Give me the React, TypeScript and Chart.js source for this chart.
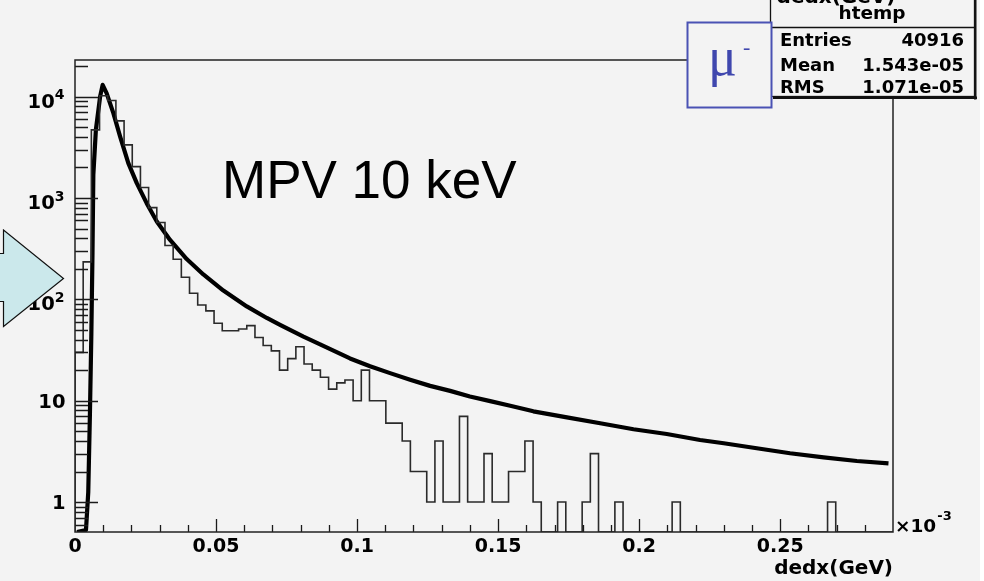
import { useEffect, useRef } from "react";
import { Chart, registerables } from "chart.js";

Chart.register(...registerables);

// ---- axis ranges (display units: dedx in 10^-3 GeV) ----
const X_MIN = 0;
const X_MAX = 0.29;
const Y_MIN = 0.506;
const Y_MAX = 23000;
const BIN_COUNT = 100;

// ---- histogram bin contents (100 bins over 0..0.29) ----
const binCounts = [
  30, 234, 4700, 10200, 9150, 5770, 3340, 2040, 1270, 804,
  573, 340, 249, 165, 115, 88, 77, 58, 49, 49,
  51, 55, 42, 35, 31, 20, 26, 34, 23, 20,
  17, 13, 15, 16, 10, 20, 10, 10, 6, 6,
  4, 2, 2, 1, 4, 1, 1, 7, 1, 1,
  3, 1, 1, 2, 2, 4, 1, 0, 0, 1,
  0, 0, 1, 3, 0, 0, 1, 0, 0, 0,
  0, 0, 0, 1, 0, 0, 0, 0, 0, 0,
  0, 0, 0, 0, 0, 0, 0, 0, 0, 0,
  0, 0, 1, 0, 0, 0, 0, 0, 0, 0,
];

// ---- fitted curve ----
const fitX = [
  0.0007, 0.0039, 0.0047, 0.0053, 0.0058, 0.0062, 0.0065, 0.0074, 0.0089, 0.0098,
  0.0112, 0.0136, 0.016, 0.0189, 0.0219, 0.0254, 0.029, 0.0337, 0.0396, 0.0455,
  0.0526, 0.0609, 0.068, 0.0727, 0.081, 0.0869, 0.0975, 0.1046, 0.1117, 0.1188,
  0.1259, 0.133, 0.14, 0.1472, 0.1543, 0.1625, 0.1744, 0.1862, 0.198, 0.2098,
  0.2216, 0.23, 0.2417, 0.2535, 0.2654, 0.2772, 0.2884,
];
const fitY = [
  0.506, 0.53, 1.25, 7.6, 46, 287, 1690, 4700, 10000, 13070,
  10830, 6870, 4040, 2210, 1400, 889, 585, 386, 250, 176,
  122, 85.1, 65.5, 55.9, 42.8, 35.9, 26.1, 21.9, 18.7, 16.1,
  14.0, 12.5, 11.0, 9.9, 8.9, 7.85, 6.85, 5.98, 5.22, 4.69,
  4.09, 3.8, 3.39, 3.03, 2.76, 2.54, 2.41,
];

// ---- tick labels ----
const xTickValues = [0, 0.05, 0.1, 0.15, 0.2, 0.25];
const xTickLabels = ["0", "0.05", "0.1", "0.15", "0.2", "0.25"];
const yTickValues = [1, 10, 100, 1000, 10000];
const yTickBase = ["1", "10", "10", "10", "10"];
const yTickExp = ["", "", "2", "3", "4"];

// ---- texts ----
const xTitle = "dedx(GeV)";
const xScaleNote = "×10";
const xScaleExp = "-3";
const statsTitle = "htemp";
const statsLabels = ["Entries", "Mean", "RMS"];
const statsValues = ["40916", "1.543e-05", "1.071e-05"];
const annotation = "MPV 10 keV";
const particle = "μ";
const particleCharge = "-";

const BG = "#f3f3f3";
const ROOT_FONT = '"DejaVu Sans"';

function histOutline() {
  const w = (X_MAX - X_MIN) / BIN_COUNT;
  const pts: { x: number; y: number }[] = [{ x: X_MIN, y: Y_MIN }];
  binCounts.forEach((c, i) => {
    const v = c > 0 ? c : Y_MIN;
    pts.push({ x: X_MIN + i * w, y: v }, { x: X_MIN + (i + 1) * w, y: v });
  });
  pts.push({ x: X_MAX, y: Y_MIN });
  return pts;
}

const decorPlugin = {
  id: "rootDecor",
  beforeDraw(chart: any) {
    const ctx = chart.ctx as CanvasRenderingContext2D;
    ctx.save();
    ctx.fillStyle = BG;
    ctx.fillRect(0, 0, chart.width, chart.height);
    ctx.fillStyle = "#ffffff";
    ctx.fillRect(980, 0, chart.width - 980, chart.height);
    ctx.restore();
  },
  afterDatasetsDraw(chart: any) {
    const ctx = chart.ctx as CanvasRenderingContext2D;
    const a = chart.chartArea;
    const x = chart.scales.x;
    const y = chart.scales.y;
    ctx.save();
    // ticks
    ctx.strokeStyle = "#1a1a1a";
    ctx.lineWidth = 1.3;
    ctx.beginPath();
    for (let i = 1; i <= 28; i++) {
      const px = Math.round(x.getPixelForValue(i * 0.01)) + 0.5;
      const len = i % 5 === 0 ? 13 : 7;
      ctx.moveTo(px, a.bottom);
      ctx.lineTo(px, a.bottom - len);
    }
    for (let d = -1; d <= 4; d++) {
      for (let m = 1; m <= 9; m++) {
        const v = m * Math.pow(10, d);
        if (v < Y_MIN || v > Y_MAX) continue;
        const py = Math.round(y.getPixelForValue(v)) + 0.5;
        const len = m === 1 ? 23 : 13;
        ctx.moveTo(a.left, py);
        ctx.lineTo(a.left + len, py);
      }
    }
    ctx.stroke();
    // frame
    ctx.lineWidth = 1.5;
    ctx.strokeStyle = "#222";
    ctx.strokeRect(a.left, a.top, a.right - a.left, a.bottom - a.top);
    ctx.restore();
  },
  afterDraw(chart: any) {
    const ctx = chart.ctx as CanvasRenderingContext2D;
    const a = chart.chartArea;
    const y = chart.scales.y;
    ctx.save();

    // y tick labels with superscripts
    ctx.fillStyle = "#000";
    ctx.textBaseline = "alphabetic";
    ctx.textAlign = "right";
    yTickValues.forEach((v, i) => {
      const py = y.getPixelForValue(v);
      const right = 64.5;
      if (yTickExp[i]) {
        ctx.font = `bold 14px ${ROOT_FONT}`;
        const w = ctx.measureText(yTickExp[i]).width;
        ctx.fillText(yTickExp[i], right, py + 2.7);
        ctx.font = `bold 19.5px ${ROOT_FONT}`;
        ctx.fillText(yTickBase[i], right - w, py + 11);
      } else {
        ctx.font = `bold 19.5px ${ROOT_FONT}`;
        ctx.fillText(yTickBase[i], right + 1, py + 7);
      }
    });

    // x10^-3 note
    ctx.textAlign = "left";
    ctx.font = `bold 18.5px ${ROOT_FONT}`;
    ctx.fillText(xScaleNote, a.right + 2, a.bottom - 0.5);
    const nw = ctx.measureText(xScaleNote).width;
    ctx.font = `bold 13px ${ROOT_FONT}`;
    ctx.fillText(xScaleExp, a.right + 2 + nw + 1, a.bottom - 12);

    // left arrow
    ctx.beginPath();
    ctx.moveTo(-5, 253.5);
    ctx.lineTo(3.5, 253.5);
    ctx.lineTo(3.5, 230);
    ctx.lineTo(63.5, 278.5);
    ctx.lineTo(3.5, 326.5);
    ctx.lineTo(3.5, 301.5);
    ctx.lineTo(-5, 301.5);
    ctx.closePath();
    ctx.fillStyle = "#cbe8eb";
    ctx.fill();
    ctx.strokeStyle = "#111";
    ctx.lineWidth = 1.2;
    ctx.stroke();

    // stats box (with shadow)
    const sx = 770, sy = -3, sw = 204, sh = 99.5;
    ctx.fillStyle = "#111";
    ctx.fillRect(sx + 3, sy + sh, sw, 2.5);
    ctx.fillRect(sx + sw, sy + 3, 2.5, sh);
    ctx.fillStyle = BG;
    ctx.fillRect(sx, sy, sw, sh);
    ctx.strokeStyle = "#111";
    ctx.lineWidth = 1.3;
    ctx.strokeRect(sx + 0.5, sy, sw, sh);
    ctx.beginPath();
    ctx.moveTo(sx, 27.5);
    ctx.lineTo(sx + sw, 27.5);
    ctx.stroke();
    ctx.fillStyle = "#000";
    ctx.font = `bold 18.5px ${ROOT_FONT}`;
    ctx.textAlign = "center";
    ctx.fillText(statsTitle, sx + sw / 2, 18.5);
    ctx.font = `bold 18px ${ROOT_FONT}`;
    const rowsY = [46, 70.5, 93];
    statsLabels.forEach((lab, i) => {
      ctx.textAlign = "left";
      ctx.fillText(lab, 780, rowsY[i]);
      ctx.textAlign = "right";
      ctx.fillText(statsValues[i], 964, rowsY[i]);
    });
    // histogram title peeking at the top
    ctx.textAlign = "center";
    ctx.font = `bold 20px ${ROOT_FONT}`;
    ctx.fillText(xTitle, 836, 3);

    // particle box
    ctx.fillStyle = BG;
    ctx.fillRect(687.5, 22.5, 84, 85);
    ctx.strokeStyle = "#4a52b4";
    ctx.lineWidth = 2;
    ctx.strokeRect(687.5, 22.5, 84, 85);
    ctx.fillStyle = "#3f47ae";
    ctx.textAlign = "left";
    ctx.font = `54px "Liberation Serif"`;
    ctx.fillText(particle, 708, 75);
    ctx.font = `22px "Liberation Serif"`;
    ctx.fillText(particleCharge, 743, 54);

    // annotation
    ctx.fillStyle = "#000";
    ctx.font = `53px "Liberation Sans"`;
    ctx.fillText(annotation, 222, 198);

    ctx.restore();
  },
};

export default function App() {
  const canvasRef = useRef<HTMLCanvasElement | null>(null);

  useEffect(() => {
    if (!canvasRef.current) return;
    const fitPoints = fitX.map((xv, i) => ({ x: xv, y: fitY[i] }));
    const chart = new Chart(canvasRef.current, {
      type: "line",
      data: {
        datasets: [
          {
            label: "htemp",
            data: histOutline(),
            borderColor: "#2a2a2a",
            borderWidth: 1.6,
            pointRadius: 0,
            pointHoverRadius: 0,
            fill: false,
            tension: 0,
            borderJoinStyle: "miter",
          },
          {
            label: "fit",
            data: fitPoints,
            borderColor: "#000",
            borderWidth: 4.2,
            pointRadius: 0,
            pointHoverRadius: 0,
            fill: false,
            tension: 0,
            borderJoinStyle: "round",
          },
        ],
      },
      options: {
        animation: false,
        responsive: false,
        events: [],
        layout: { padding: { top: 60, right: 91, left: 0, bottom: 0 } },
        plugins: {
          legend: { display: false },
          tooltip: { enabled: false },
          title: { display: false },
        },
        scales: {
          x: {
            type: "linear",
            min: X_MIN,
            max: X_MAX,
            grid: { display: false, drawTicks: false },
            border: { display: false },
            afterBuildTicks: (s: any) => {
              s.ticks = xTickValues.map((value) => ({ value }));
            },
            afterFit: (s: any) => {
              s.height = 49;
            },
            ticks: {
              autoSkip: false,
              maxRotation: 0,
              padding: 4,
              color: "#000",
              font: { family: "DejaVu Sans", weight: "bold", size: 19 },
              callback: (_v: any, i: number) => xTickLabels[i],
            },
            title: {
              display: true,
              text: xTitle,
              align: "end",
              color: "#000",
              padding: { top: 0, bottom: 0 },
              font: { family: "DejaVu Sans", weight: "bold", size: 20 },
            },
          },
          y: {
            type: "logarithmic",
            min: Y_MIN,
            max: Y_MAX,
            grid: { display: false, drawTicks: false },
            border: { display: false },
            afterBuildTicks: (s: any) => {
              s.ticks = yTickValues.map((value) => ({ value }));
            },
            afterFit: (s: any) => {
              s.width = 75;
            },
            ticks: { display: false },
          },
        },
      },
      plugins: [decorPlugin],
    } as any);
    return () => chart.destroy();
  }, []);

  return (
    <div style={{ position: "absolute", left: 0, top: 0, width: 984, height: 581 }}>
      <canvas ref={canvasRef} width={984} height={581} style={{ display: "block" }} />
    </div>
  );
}
